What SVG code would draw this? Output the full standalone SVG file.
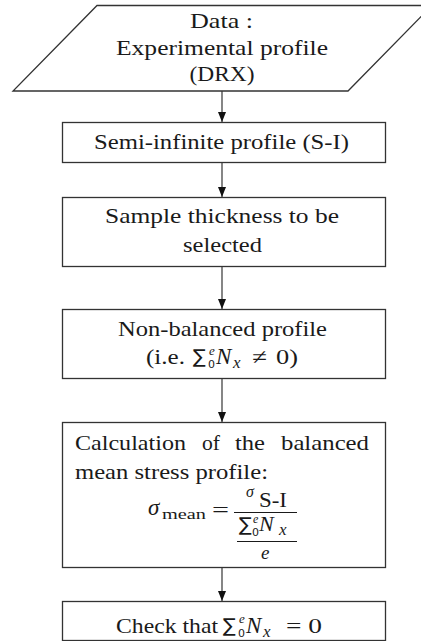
<svg xmlns="http://www.w3.org/2000/svg" width="421" height="641" viewBox="0 0 421 641">
  <style>
    .t { font-family: 'Liberation Serif', 'Times New Roman', serif; font-size: 21px; fill: #1a1a1a; }
    .i { font-style: italic; }
    .s { font-family: 'DejaVu Sans', sans-serif; }
    .box { fill: #ffffff; stroke: #333333; stroke-width: 1.3; }
    .conn { stroke: #222222; stroke-width: 1.1; fill: none; marker-end: url(#ah); }
    .bar { stroke: #1a1a1a; stroke-width: 1.1; }
  </style>
  <defs>
    <marker id="ah" markerUnits="userSpaceOnUse" markerWidth="8" markerHeight="10" refX="4" refY="10" orient="0" viewBox="0 0 8 10">
      <path d="M0,0 L8,0 L4,10 Z" fill="#111111"/>
    </marker>
  </defs>
  <rect x="0" y="0" width="421" height="641" fill="#ffffff"/>

  <g id="connectors">
    <line class="conn" x1="222" y1="91" x2="222" y2="122"/>
    <line class="conn" x1="222" y1="162" x2="222" y2="197"/>
    <line class="conn" x1="222" y1="266" x2="222" y2="309"/>
    <line class="conn" x1="222" y1="378" x2="222" y2="422"/>
    <line class="conn" x1="222" y1="567" x2="222" y2="601"/>
  </g>

  <g id="data">
    <polygon class="box" points="97,5.5 432,5.5 348,91 13,91"/>
    <text class="t" x="190" y="28" textLength="63" lengthAdjust="spacingAndGlyphs">Data :</text>
    <text class="t" x="116" y="55" textLength="212" lengthAdjust="spacingAndGlyphs">Experimental profile</text>
    <text class="t" x="189.5" y="81" textLength="65" lengthAdjust="spacingAndGlyphs">(DRX)</text>
  </g>

  <g id="semi-infinite">
    <rect class="box" x="62.5" y="122.5" width="323" height="40"/>
    <text class="t" x="94" y="149" textLength="255" lengthAdjust="spacingAndGlyphs">Semi-infinite profile (S-I)</text>
  </g>

  <g id="thickness">
    <rect class="box" x="62.5" y="197.5" width="323" height="69"/>
    <text class="t" x="105" y="223" textLength="234" lengthAdjust="spacingAndGlyphs">Sample thickness to be</text>
    <text class="t" x="183" y="252" textLength="79" lengthAdjust="spacingAndGlyphs">selected</text>
  </g>

  <g id="non-balanced">
    <rect class="box" x="62.5" y="309.5" width="323" height="69"/>
    <text class="t" x="118" y="336" textLength="209" lengthAdjust="spacingAndGlyphs">Non-balanced profile</text>
    <text class="t" y="364"><tspan x="146" textLength="39" lengthAdjust="spacingAndGlyphs">(i.e.</tspan><tspan class="s" x="193" y="363" style="font-size:19px">∑</tspan><tspan class="i" x="209" y="355" style="font-size:13px">e</tspan><tspan class="s" x="208" y="368" style="font-size:11px">0</tspan><tspan class="i" x="216" y="364" style="font-size:23px">N</tspan><tspan class="i" x="233" y="368" style="font-size:17px">x</tspan><tspan x="252" y="364" textLength="15" lengthAdjust="spacingAndGlyphs">≠</tspan><tspan x="276" textLength="22" lengthAdjust="spacingAndGlyphs">0)</tspan></text>
  </g>

  <g id="calculation">
    <rect class="box" x="62.5" y="422.5" width="323" height="145"/>
    <text class="t" y="450"><tspan x="75" textLength="111" lengthAdjust="spacingAndGlyphs">Calculation</tspan><tspan x="202" textLength="18" lengthAdjust="spacingAndGlyphs">of</tspan><tspan x="235" textLength="30" lengthAdjust="spacingAndGlyphs">the</tspan><tspan x="281" textLength="88" lengthAdjust="spacingAndGlyphs">balanced</tspan></text>
    <text class="t" x="75" y="479" textLength="193" lengthAdjust="spacingAndGlyphs">mean stress profile:</text>
    <text class="t"><tspan class="i" x="148" y="515" style="font-size:23px">σ</tspan><tspan x="162" y="519" style="font-size:15px" textLength="44" lengthAdjust="spacingAndGlyphs">mean</tspan><tspan x="212" y="517" style="font-size:22px" textLength="17" lengthAdjust="spacingAndGlyphs">=</tspan></text>
    <text class="t"><tspan class="i" x="246" y="497" style="font-size:16px">σ</tspan><tspan x="259" y="507" textLength="28" lengthAdjust="spacingAndGlyphs">S-I</tspan></text>
    <line class="bar" x1="234" y1="512.5" x2="297" y2="512.5"/>
    <text class="t"><tspan class="s" x="239" y="531" style="font-size:19px">∑</tspan><tspan class="i" x="253" y="523" style="font-size:12px">e</tspan><tspan class="s" x="252" y="536" style="font-size:11px">0</tspan><tspan class="i" x="259" y="531" style="font-size:22px">N</tspan><tspan class="i" x="279" y="535" style="font-size:17px">x</tspan></text>
    <line class="bar" x1="237" y1="541.5" x2="297" y2="541.5"/>
    <text class="t i" x="261" y="559" style="font-size:19px">e</text>
  </g>

  <g id="check">
    <rect class="box" x="62.5" y="601.5" width="323" height="39"/>
    <text class="t" y="633"><tspan x="116" textLength="102" lengthAdjust="spacingAndGlyphs">Check that</tspan><tspan class="s" x="223" y="632" style="font-size:19px">∑</tspan><tspan class="i" x="239" y="623" style="font-size:13px">e</tspan><tspan class="s" x="238" y="637" style="font-size:11px">0</tspan><tspan class="i" x="246" y="633" style="font-size:23px">N</tspan><tspan class="i" x="263" y="637" style="font-size:17px">x</tspan><tspan x="286" y="633" textLength="36" lengthAdjust="spacingAndGlyphs">= 0</tspan></text>
  </g>
</svg>
